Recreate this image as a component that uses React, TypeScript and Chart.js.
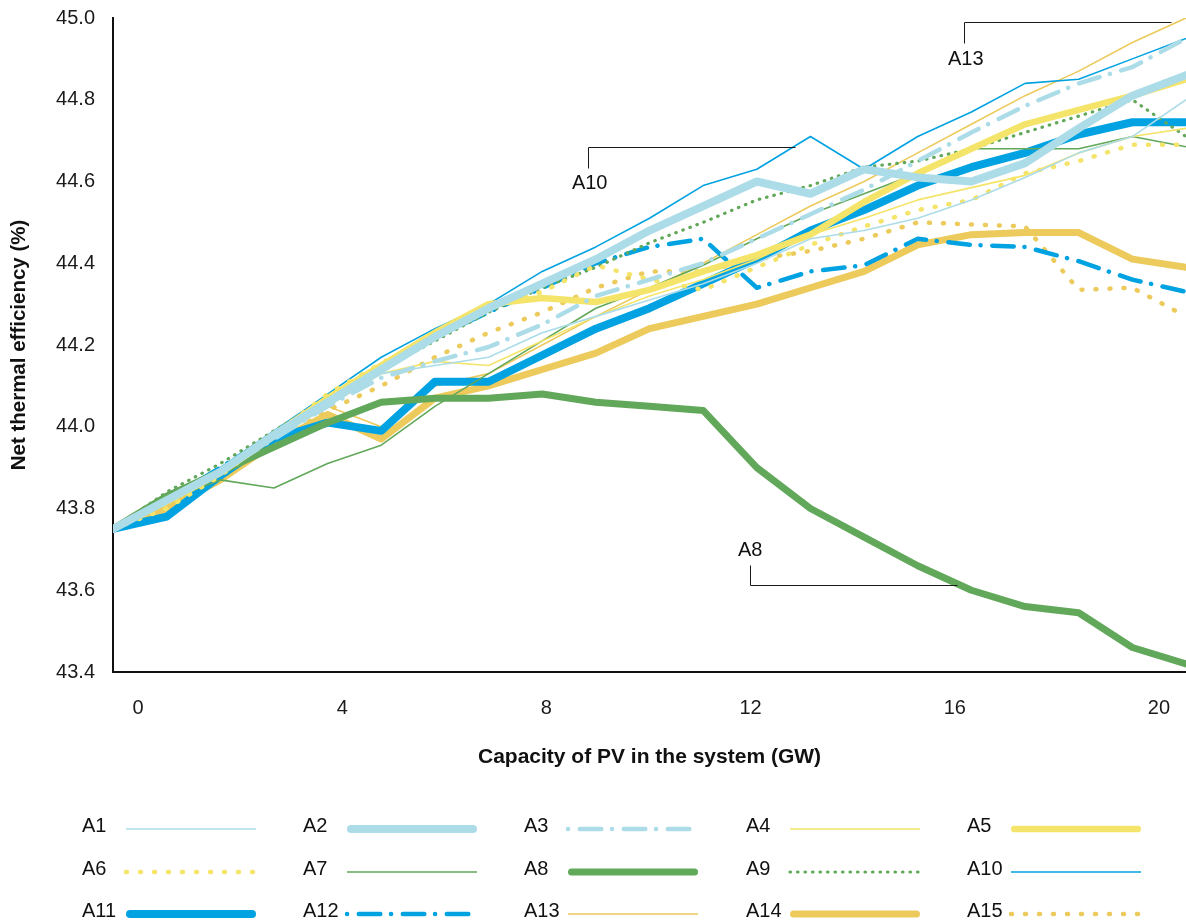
import React, { useEffect, useRef } from 'react';
import { Chart, registerables } from 'chart.js';

Chart.register(...registerables);

// x positions of the 21 data points (GW)
const xValues = [-0.49, 0.561, 1.612, 2.663, 3.714, 4.765, 5.816, 6.867, 7.918, 8.969, 10.02, 11.071, 12.122, 13.173, 14.224, 15.275, 16.326, 17.377, 18.428, 19.479, 20.53];
const xTickValues = [0, 4, 8, 12, 16, 20];
const yTickValues = [43.4, 43.6, 43.8, 44.0, 44.2, 44.4, 44.6, 44.8, 45.0];

const seriesNames = ['A1', 'A2', 'A3', 'A4', 'A5', 'A6', 'A7', 'A8', 'A9', 'A10', 'A11', 'A12', 'A13', 'A14', 'A15'];

const a1 = [43.75, 43.82, 43.89, 43.97, 44.05, 44.13, 44.15, 44.17, 44.23, 44.27, 44.31, 44.35, 44.40, 44.46, 44.48, 44.51, 44.555, 44.61, 44.67, 44.71, 44.80];
const a2 = [43.75, 43.82, 43.89, 43.98, 44.06, 44.14, 44.22, 44.29, 44.35, 44.41, 44.48, 44.54, 44.60, 44.57, 44.63, 44.61, 44.60, 44.645, 44.73, 44.81, 44.86];
const a3 = [43.75, 43.82, 43.89, 43.97, 44.05, 44.12, 44.16, 44.195, 44.25, 44.32, 44.36, 44.40, 44.46, 44.52, 44.58, 44.65, 44.72, 44.785, 44.84, 44.88, 44.95];
const a4 = [43.75, 43.81, 43.88, 43.97, 44.05, 44.13, 44.16, 44.15, 44.21, 44.27, 44.32, 44.36, 44.41, 44.47, 44.51, 44.555, 44.585, 44.615, 44.67, 44.71, 44.73];
const a5 = [43.75, 43.82, 43.89, 43.98, 44.07, 44.15, 44.23, 44.30, 44.315, 44.305, 44.335, 44.38, 44.42, 44.47, 44.55, 44.62, 44.68, 44.74, 44.775, 44.81, 44.85];
const a6 = [43.75, 43.80, 43.88, 43.98, 44.08, 44.155, 44.225, 44.29, 44.33, 44.395, 44.36, 44.335, 44.39, 44.445, 44.49, 44.53, 44.555, 44.62, 44.65, 44.69, 44.69];
const a7 = [43.75, 43.82, 43.87, 43.85, 43.91, 43.955, 44.05, 44.13, 44.21, 44.29, 44.34, 44.395, 44.46, 44.52, 44.57, 44.62, 44.68, 44.68, 44.68, 44.71, 44.685];
const a8 = [43.75, 43.83, 43.89, 43.95, 44.01, 44.06, 44.07, 44.07, 44.08, 44.06, 44.05, 44.04, 43.90, 43.80, 43.73, 43.66, 43.60, 43.56, 43.545, 43.46, 43.42];
const a9 = [43.75, 43.84, 43.91, 43.99, 44.07, 44.14, 44.21, 44.28, 44.34, 44.39, 44.45, 44.50, 44.555, 44.59, 44.635, 44.65, 44.68, 44.72, 44.76, 44.80, 44.71];
const a10 = [43.75, 43.83, 43.90, 43.99, 44.08, 44.17, 44.24, 44.30, 44.38, 44.44, 44.51, 44.59, 44.63, 44.71, 44.63, 44.71, 44.77, 44.84, 44.85, 44.90, 44.95];
const a11 = [43.75, 43.78, 43.88, 43.97, 44.01, 43.99, 44.11, 44.11, 44.175, 44.24, 44.29, 44.35, 44.41, 44.48, 44.53, 44.59, 44.635, 44.67, 44.715, 44.745, 44.745];
const a12 = [43.75, 43.82, 43.90, 43.98, 44.06, 44.14, 44.22, 44.28, 44.34, 44.40, 44.44, 44.46, 44.34, 44.38, 44.395, 44.46, 44.445, 44.44, 44.405, 44.36, 44.33];
const a13 = [43.75, 43.81, 43.88, 43.97, 44.05, 44.00, 44.10, 44.13, 44.20, 44.27, 44.335, 44.40, 44.47, 44.54, 44.60, 44.67, 44.74, 44.81, 44.87, 44.94, 45.00];
const a14 = [43.75, 43.80, 43.87, 43.96, 44.03, 43.97, 44.07, 44.10, 44.14, 44.18, 44.24, 44.27, 44.30, 44.34, 44.38, 44.445, 44.47, 44.475, 44.475, 44.41, 44.39];
const a15 = [43.75, 43.81, 43.88, 43.96, 44.04, 44.10, 44.17, 44.23, 44.28, 44.34, 44.38, 44.38, 44.41, 44.43, 44.46, 44.50, 44.495, 44.49, 44.335, 44.34, 44.27];

const seriesValues = [a1, a2, a3, a4, a5, a6, a7, a8, a9, a10, a11, a12, a13, a14, a15];

// styling
const LIGHT_BLUE = '#acdce8';
const YELLOW = '#f5e46a';
const GREEN = '#62a85a';
const BLUE = '#00a2e1';
const GOLD = '#ecca5c';

const DASH_DOT = [0.1, 11.7, 21.5, 10.7];
const BIG_DOTS = [1, 13];
const SMALL_DOTS = [0.5, 7];

type Style = { color: string; width: number; dash: number[]; cap: CanvasLineCap };
const styles: Style[] = [
  { color: LIGHT_BLUE, width: 1.6, dash: [], cap: 'butt' },
  { color: LIGHT_BLUE, width: 8, dash: [], cap: 'round' },
  { color: LIGHT_BLUE, width: 4.5, dash: DASH_DOT, cap: 'round' },
  { color: YELLOW, width: 1.6, dash: [], cap: 'butt' },
  { color: YELLOW, width: 6.5, dash: [], cap: 'round' },
  { color: YELLOW, width: 4.5, dash: BIG_DOTS, cap: 'round' },
  { color: GREEN, width: 1.6, dash: [], cap: 'butt' },
  { color: GREEN, width: 7, dash: [], cap: 'round' },
  { color: GREEN, width: 3.2, dash: SMALL_DOTS, cap: 'round' },
  { color: BLUE, width: 1.6, dash: [], cap: 'butt' },
  { color: BLUE, width: 8, dash: [], cap: 'round' },
  { color: BLUE, width: 4.5, dash: DASH_DOT, cap: 'round' },
  { color: GOLD, width: 1.6, dash: [], cap: 'butt' },
  { color: GOLD, width: 7, dash: [], cap: 'round' },
  { color: GOLD, width: 4.5, dash: BIG_DOTS, cap: 'round' },
];

// callout annotations, in data units
const annotations = [
  { text: 'A13', textX: 15.867, textY: 44.898, path: [[16.19, 44.939], [16.19, 44.99], [20.235, 44.99]] },
  { text: 'A10', textX: 8.5, textY: 44.595, path: [[8.815, 44.633], [8.815, 44.684], [12.87, 44.684]] },
  { text: 'A8', textX: 11.753, textY: 43.697, path: [[11.988, 43.662], [11.988, 43.613], [16.043, 43.613]] },
];

const FONT = '"Liberation Sans", Arial, Helvetica, sans-serif';

const annotationPlugin = {
  id: 'callouts',
  afterDatasetsDraw(chart: any) {
    const { ctx, scales } = chart;
    const xs = scales.x;
    const ys = scales.y;
    ctx.save();
    ctx.strokeStyle = '#1a1a1a';
    ctx.lineWidth = 1;
    ctx.fillStyle = '#111';
    ctx.font = `20px ${FONT}`;
    ctx.textBaseline = 'middle';
    ctx.textAlign = 'left';
    annotations.forEach((a) => {
      ctx.beginPath();
      a.path.forEach(([vx, vy], i) => {
        const px = Math.round(xs.getPixelForValue(vx)) + 0.5;
        const py = Math.round(ys.getPixelForValue(vy)) + 0.5;
        if (i === 0) ctx.moveTo(px, py);
        else ctx.lineTo(px, py);
      });
      ctx.stroke();
      ctx.fillText(a.text, xs.getPixelForValue(a.textX), ys.getPixelForValue(a.textY));
    });
    ctx.restore();
  },
};

const legendPlugin = {
  id: 'sideLegend',
  afterDraw(chart: any) {
    const { ctx } = chart;
    const colX = [82, 303, 524, 746, 967];
    const rowY = [826, 869, 911];
    ctx.save();
    ctx.font = `20px ${FONT}`;
    ctx.textBaseline = 'middle';
    ctx.textAlign = 'left';
    chart.data.datasets.forEach((ds: any, i: number) => {
      const x = colX[i % 5];
      const y = rowY[Math.floor(i / 5)];
      ctx.fillStyle = '#111';
      ctx.fillText(ds.label, x, y);
      ctx.beginPath();
      ctx.strokeStyle = ds.borderColor;
      ctx.lineWidth = ds.borderWidth;
      ctx.setLineDash(ds.borderDash || []);
      ctx.lineCap = ds.borderCapStyle;
      const half = ds.borderCapStyle === 'round' && (!ds.borderDash || ds.borderDash.length === 0) ? ds.borderWidth / 2 : 0;
      ctx.moveTo(x + 44 + half, y + 3);
      ctx.lineTo(x + 174 - half, y + 3);
      ctx.stroke();
    });
    ctx.restore();
  },
};

export default function App() {
  const canvasRef = useRef<HTMLCanvasElement | null>(null);

  useEffect(() => {
    const canvas = canvasRef.current;
    if (!canvas) return;
    Chart.defaults.font.family = FONT;

    const datasets = seriesNames.map((name, i) => ({
      label: name,
      data: seriesValues[i].map((v, k) => ({ x: xValues[k], y: v })),
      borderColor: styles[i].color,
      backgroundColor: styles[i].color,
      borderWidth: styles[i].width,
      borderDash: styles[i].dash,
      borderCapStyle: styles[i].cap,
      borderJoinStyle: 'round' as CanvasLineJoin,
      pointRadius: 0,
      pointHoverRadius: 0,
      tension: 0,
      fill: false,
    }));

    const chart = new Chart(canvas, {
      type: 'line',
      data: { datasets },
      options: {
        animation: false,
        responsive: false,
        maintainAspectRatio: false,
        events: [],
        layout: { padding: { top: 18, bottom: 151, left: 0, right: 0 } },
        plugins: {
          legend: { display: false },
          tooltip: { enabled: false },
        },
        scales: {
          x: {
            type: 'linear',
            min: xValues[0],
            max: xValues[xValues.length - 1],
            grid: { display: false, drawTicks: true, tickLength: 24 },
            border: { display: true, color: '#111', width: 2 },
            afterBuildTicks: (scale: any) => {
              scale.ticks = xTickValues.map((v) => ({ value: v }));
            },
            afterFit: (scale: any) => {
              scale.height = 100;
            },
            ticks: {
              color: '#1a1a1a',
              font: { size: 20 },
              padding: 0,
              maxRotation: 0,
              callback: (v: any) => String(v),
            },
            title: {
              display: true,
              text: 'Capacity of PV in the system (GW)',
              color: '#111',
              font: { size: 21, weight: 'bold' },
              padding: { top: 0, bottom: 2 },
            },
          },
          y: {
            type: 'linear',
            min: 43.4,
            max: 45.0,
            grid: { display: false, drawTicks: true, tickLength: 18 },
            border: { display: true, color: '#111', width: 2 },
            afterBuildTicks: (scale: any) => {
              scale.ticks = yTickValues.map((v) => ({ value: v }));
            },
            afterFit: (scale: any) => {
              scale.width = 113;
            },
            ticks: {
              color: '#1a1a1a',
              font: { size: 20 },
              padding: 0,
              callback: (v: any) => Number(v).toFixed(1),
            },
            title: {
              display: true,
              text: 'Net thermal efficiency (%)',
              color: '#111',
              font: { size: 20.5, weight: 'bold' },
              padding: { top: 7, bottom: 0 },
            },
          },
        },
      },
      plugins: [annotationPlugin, legendPlugin],
    });

    return () => {
      chart.destroy();
    };
  }, []);

  return (
    <div style={{ position: 'absolute', left: 0, top: 0, width: 1186, height: 923, overflow: 'hidden', background: '#fff' }}>
      <canvas ref={canvasRef} width={1186} height={923} style={{ display: 'block' }} />
    </div>
  );
}
